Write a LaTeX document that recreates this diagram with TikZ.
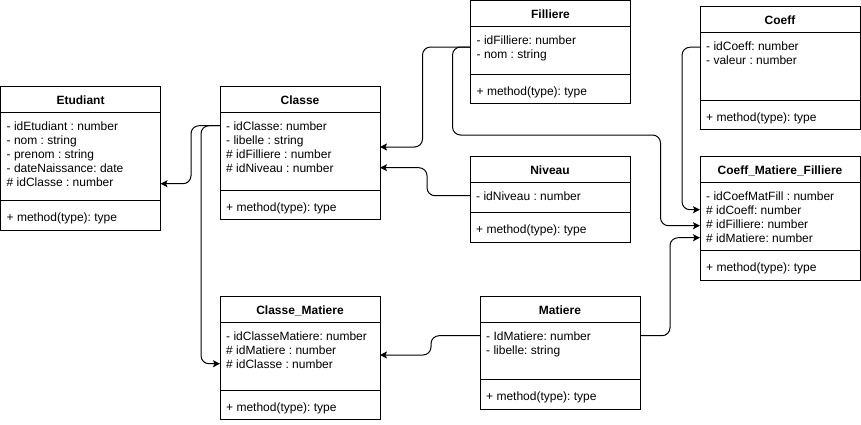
\documentclass[tikz,border=0pt]{standalone}
\usepackage{fontspec}
\setmainfont{Liberation Sans}
\usetikzlibrary{arrows.meta}
\frenchspacing
\tikzset{
  part/.style={draw=black, line width=1pt, rectangle, inner sep=0pt, outer sep=0pt, anchor=north west, minimum width=160pt},
  ttl/.style={anchor=base, inner sep=0pt, font=\fontsize{12pt}{14pt}\selectfont\bfseries\frenchspacing},
  txt/.style={anchor=base west, inner sep=0pt, font=\fontsize{12pt}{14pt}\selectfont\frenchspacing},
  conn/.style={draw=black, line width=1pt, rounded corners=8pt, -{Stealth[length=7pt,width=7pt,inset=1.5pt]}},
}
\newcommand{\umlcls}[7]{%
  \node[part, minimum height={(#4-#3)*1pt}] (#1T) at (#2,#3) {};
  \node[part, minimum height={(#5-#4)*1pt}] (#1A) at (#2,#4) {};
  \node[part, minimum height={(#6-#5)*1pt}] (#1M) at (#2,#5) {};
  \node[ttl] (#1Title) at ({#2+80},{#3+17.5}) {#7};
  \node[txt] (#1Meth) at ({#2+6},{#5+21}) {+ method(type): type};
}
\begin{document}
\begin{tikzpicture}[x=1pt, y=-1pt]
\useasboundingbox (0,0) rectangle (861,424);

\umlcls{etu}{0.5}{86.5}{112}{200}{230}{Etudiant}
\umlcls{classe}{220}{86.5}{112}{190}{219.5}{Classe}
\umlcls{fil}{470.5}{0.5}{26}{74}{103.5}{Filliere}
\umlcls{coeff}{700}{6.5}{32}{100}{129.5}{Coeff}
\umlcls{niv}{470}{156.5}{182}{212}{242}{Niveau}
\umlcls{cmf}{700}{156.5}{182}{250}{280}{Coeff\_Matiere\_Filliere}
\umlcls{cm}{220}{296.5}{322}{390}{419.5}{Classe\_Matiere}
\umlcls{mat}{480}{296.5}{322}{379}{409.5}{Matiere}

% Etudiant attributes
\node[txt] (etu1) at (6.5,130) {- idEtudiant : number};
\node[txt] (etu2) at (6.5,144) {- nom : string};
\node[txt] (etu3) at (6.5,158) {- prenom : string};
\node[txt] (etu4) at (6.5,172) {- dateNaissance: date};
\node[txt] (etu5) at (6.5,186) {\# idClasse : number};
% Classe attributes
\node[txt] (classe1) at (226,130) {- idClasse: number};
\node[txt] (classe2) at (226,144) {- libelle : string};
\node[txt] (classe3) at (226,158) {\# idFilliere : number};
\node[txt] (classe4) at (226,172) {\# idNiveau : number};
% Filliere attributes
\node[txt] (fil1) at (476.5,44) {- idFilliere: number};
\node[txt] (fil2) at (476.5,58) {- nom : string};
% Coeff attributes
\node[txt] (coeff1) at (706,50) {- idCoeff: number};
\node[txt] (coeff2) at (706,64) {- valeur : number};
% Niveau attributes
\node[txt] (niv1) at (476,200) {- idNiveau : number};
% Coeff_Matiere_Filliere attributes
\node[txt] (cmf1) at (706,200) {- idCoefMatFill : number};
\node[txt] (cmf2) at (706,214) {\# idCoeff: number};
\node[txt] (cmf3) at (706,228) {\# idFilliere: number};
\node[txt] (cmf4) at (706,242) {\# idMatiere: number};
% Classe_Matiere attributes
\node[txt] (cm1) at (226,340) {- idClasseMatiere: number};
\node[txt] (cm2) at (226,354) {\# idMatiere : number};
\node[txt] (cm3) at (226,368) {\# idClasse : number};
% Matiere attributes
\node[txt] (mat1) at (486,340) {- IdMatiere: number};
\node[txt] (mat2) at (486,354) {- libelle: string};

% helper coordinates
\coordinate (pEtu) at ([yshift=-2pt]etu5.center);
\coordinate (pFil) at ([yshift=3pt]filA.west);
\coordinate (pClasseF) at ([yshift=4pt]classeA.east);
\coordinate (pCmfF) at ([yshift=-2pt]cmf3.center);
\coordinate (pCoeff) at ([yshift=-1.5pt]coeff1.center);
\coordinate (pCm) at ([yshift=1pt]cmA.east);

% connectors
\draw[conn] (classeA.west |- classe1) -- ++(-29,0) |- (etuA.east |- pEtu);
\draw[conn] (classeA.west |- classe1) -- ++(-19,0) |- (cmA.west |- cm3);
\draw[conn] (pFil) -- ++(-48,0) |- (pClasseF);
\draw[conn] (pFil) -- ++(-18,0) -- ++(0,88) -- ++(208,0) |- (cmfA.west |- pCmfF);
\draw[conn] (nivA.west |- niv1) -- ++(-43,0) |- (classeA.east |- classe4);
\draw[conn] (coeffA.west |- pCoeff) -- ++(-18,0) |- (cmfA.west |- cmf2);
\draw[conn] (matA.east |- mat1) -- ++(30,0) |- (cmfA.west |- cmf4);
\draw[conn] (matA.west |- mat1) -- ++(-49,0) |- (pCm);
\end{tikzpicture}
\end{document}
